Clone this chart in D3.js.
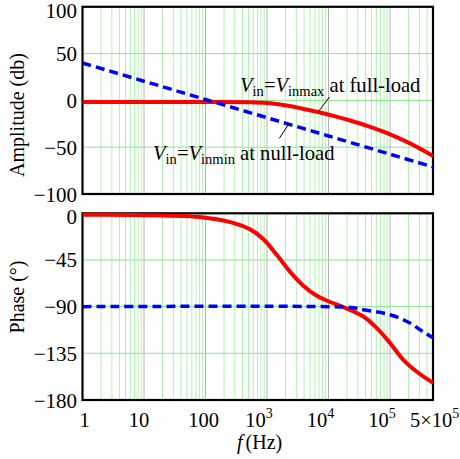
<!DOCTYPE html>
<html><head><meta charset="utf-8">
<script src="https://cdn.jsdelivr.net/npm/d3@7"></script>
<style>body{margin:0;background:#fff}svg{display:block}text{font-family:"Liberation Serif","Times New Roman",serif;fill:#000}</style>
</head><body><svg id="c" width="460" height="459"></svg>
<script>
// ---- data ----
const ampTicks = [100, 50, 0, -50, -100];
const phaseTicks = [0, -45, -90, -135, -180];
const freqTickValues = [1, 10, 100, 1e3, 1e4, 1e5, 5e5];
const freqTickBase = ["1", "10", "100", "10", "10", "10", "5×10"];
const freqTickExp = ["", "", "", "3", "4", "5", "5"];

const ampFullFreq = [1, 100, 500, 1000, 1850, 3500, 6460, 12000, 22400, 45000, 78000, 145000, 270000, 500000];
const ampFullDb   = [-1.8, -1.8, -2, -2.8, -5, -8.3, -12.2, -16.6, -21.5, -27.7, -33.4, -40.9, -49.5, -59.4];
const ampNullFreq = [1, 10, 100, 1000, 10000, 100000, 500000];
const ampNullDb   = [40, 20.5, 1, -18.5, -38, -57.5, -71];

const phFullFreq = [1, 10, 93, 253, 533, 877, 1450, 2380, 3930, 6460, 10600, 17400, 36900, 60600, 100000, 163000, 270000, 500000];
const phFullDeg  = [-1.5, -1.8, -4, -8.5, -15.5, -25, -40.3, -56.5, -70, -79.5, -85.5, -90.5, -99.5, -110.5, -125, -141, -152.5, -163.5];
const phNullFreq = [1, 10000, 25000, 37000, 100000, 210000, 340000, 500000];
const phNullDeg  = [-90, -90, -91, -93, -97.8, -105.8, -114, -120];

// ---- layout ----
const svg = d3.select("#c");
const L = 82.5, R = 433;
const x = d3.scaleLog().domain([1, 5e5]).range([L, R]);
const yA = d3.scaleLinear().domain([-100, 100]).range([194, 6.8]);
const yP = d3.scaleLinear().domain([-180, 0]).range([400, 213.3]);

const minor = [];
for (let d = 0; d <= 5; d++) for (let k = 2; k <= 9; k++) { const f = k * Math.pow(10, d); if (f < 5e5) minor.push(f); }
const major = [10, 100, 1e3, 1e4, 1e5];

function panel(y, ticks, id, series, title, titleY) {
  const [b, t] = y.range();
  const g = svg.append("g");
  g.append("defs").append("clipPath").attr("id", id).append("rect")
    .attr("x", L).attr("y", t - 2).attr("width", R - L).attr("height", b - t + 4);
  g.selectAll(".mn").data(minor).join("line")
    .attr("x1", d => x(d)).attr("x2", d => x(d)).attr("y1", t).attr("y2", b)
    .attr("stroke", "#b2f2b2").attr("stroke-width", 1);
  g.selectAll(".mj").data(major).join("line")
    .attr("x1", d => x(d)).attr("x2", d => x(d)).attr("y1", t).attr("y2", b)
    .attr("stroke", "#b4b4b4").attr("stroke-width", 1);
  g.selectAll(".hg").data(ticks.slice(1, -1)).join("line")
    .attr("x1", L).attr("x2", R).attr("y1", d => y(d)).attr("y2", d => y(d))
    .attr("stroke", "#88e888").attr("stroke-width", 1);
  g.append("rect").attr("x", L).attr("y", t).attr("width", R - L).attr("height", b - t)
    .attr("fill", "none").attr("stroke", "#000").attr("stroke-width", 2.2);
  g.selectAll(".yl").data(ticks).join("text")
    .attr("x", 77).attr("y", d => Math.max(y(d) + 7.5, t + 11))
    .attr("text-anchor", "end").attr("font-size", 21)
    .text(d => d < 0 ? "\u2212" + Math.abs(d) : d);
  const cg = g.append("g").attr("clip-path", `url(#${id})`);
  series.forEach(s => {
    const pts = s.f.map((f, i) => [x(f), y(s.v[i])]);
    cg.append("path").attr("d", d3.line().curve(d3.curveCatmullRom.alpha(0.5))(pts))
      .attr("fill", "none").attr("stroke", s.color).attr("stroke-width", s.w)
      .attr("stroke-dasharray", s.dash || null);
  });
  g.append("text").attr("transform", `translate(24,${titleY}) rotate(-90)`)
    .attr("text-anchor", "middle").attr("font-size", 20).text(title);
}

panel(yA, ampTicks, "clipA", [
  {f: ampFullFreq, v: ampFullDb, color: "#ff0000", w: 4},
  {f: ampNullFreq, v: ampNullDb, color: "#0000ff", w: 3.5, dash: "9,5"}
], "Amplitude (db)", 115);

panel(yP, phaseTicks, "clipP", [
  {f: phFullFreq, v: phFullDeg, color: "#ff0000", w: 4},
  {f: phNullFreq, v: phNullDeg, color: "#0000ff", w: 3.5, dash: "9,5"}
], "Phase (°)", 297);

// x tick labels
freqTickValues.forEach((v, i) => {
  const sup = freqTickExp[i] !== "";
  const t = svg.append("text").attr("y", 427).attr("font-size", 20.5);
  if (i === freqTickValues.length - 1) t.attr("x", x(v) - 23).attr("text-anchor", "start");
  else t.attr("x", sup ? x(v) - 8 : x(v) + (i === 0 ? 2 : (i === 1 ? -5 : -2))).attr("text-anchor", "middle");
  t.append("tspan").text(freqTickBase[i]);
  if (sup) t.append("tspan").attr("dy", -9).attr("font-size", 14).text(freqTickExp[i]);
});

// x axis title
const xt = svg.append("text").attr("x", 237).attr("y", 449).attr("font-size", 20);
xt.append("tspan").attr("font-style", "italic").text("f");
xt.append("tspan").attr("dx", 3).text("(Hz)");

// annotations
function annot(x0, y0, sub2, rest) {
  const t = svg.append("text").attr("x", x0).attr("y", y0).attr("font-size", 20.6);
  t.append("tspan").attr("font-style", "italic").text("V");
  t.append("tspan").attr("dy", 4).attr("font-size", 14.5).text("in");
  t.append("tspan").attr("dy", -4).text("=");
  t.append("tspan").attr("font-style", "italic").text("V");
  t.append("tspan").attr("dy", 4).attr("font-size", 14.5).text(sub2);
  t.append("tspan").attr("dy", -4).text(" " + rest);
}
annot(240, 92, "inmax", "at full-load");
annot(153, 160, "inmin", "at null-load");
svg.append("line").attr("x1", 329.5).attr("y1", 97).attr("x2", 318.5).attr("y2", 111.5)
  .attr("stroke", "#000").attr("stroke-width", 1);
svg.append("line").attr("x1", 289.3).attr("y1", 123.3).attr("x2", 279.3).attr("y2", 138.3)
  .attr("stroke", "#000").attr("stroke-width", 1);
</script></body></html>
